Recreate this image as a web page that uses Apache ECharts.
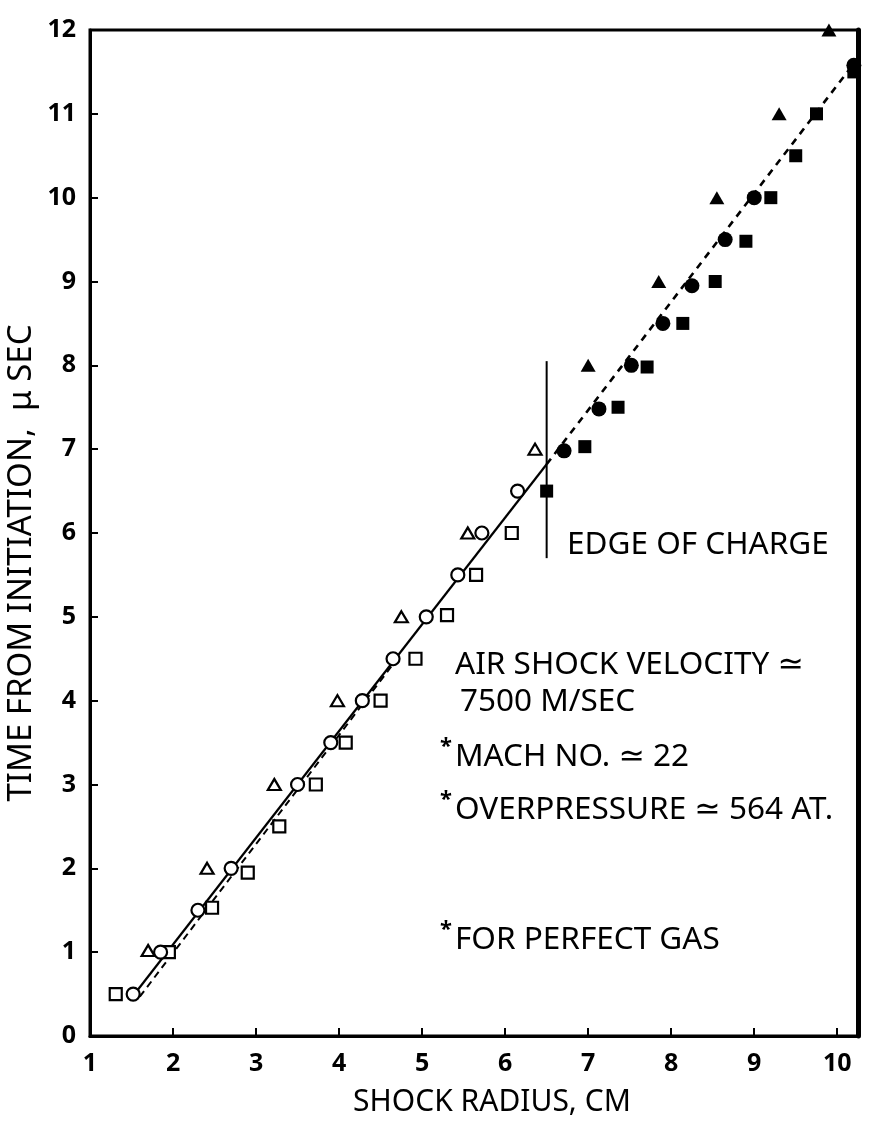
<!DOCTYPE html>
<html><head><meta charset="utf-8">
<script src="https://cdn.jsdelivr.net/npm/echarts@6/dist/echarts.min.js"></script>
<style>html,body{margin:0;padding:0;background:#fff}#c{width:870px;height:1130px}</style>
</head><body><div id="c"></div>
<script>
// ---- data ----
const xTickValues = [1, 2, 3, 4, 5, 6, 7, 8, 9, 10];
const yTickValues = [0, 1, 2, 3, 4, 5, 6, 7, 8, 9, 10, 11, 12];
const xTitle = 'SHOCK RADIUS, CM';
const yTitle = 'TIME FROM INITIATION,  \u03bc SEC';

const openCircles = [[1.52,0.5],[1.85,1.0],[2.3,1.5],[2.7,2.0],[3.5,3.0],[3.9,3.5],[4.28,4.0],[4.65,4.5],[5.05,5.0],[5.43,5.5],[5.72,6.0],[6.15,6.5]];
const openSquares = [[1.31,0.5],[1.95,1.0],[2.47,1.53],[2.9,1.95],[3.28,2.5],[3.72,3.0],[4.08,3.5],[4.5,4.0],[4.92,4.5],[5.3,5.02],[5.65,5.5],[6.08,6.0]];
const openTriangles = [[1.7,1.02],[2.41,2.0],[3.22,3.0],[3.98,4.0],[4.75,5.0],[5.55,6.0],[6.36,7.0]];
const filledCircles = [[6.71,6.98],[7.13,7.48],[7.52,8.0],[7.9,8.5],[8.25,8.95],[8.65,9.5],[9.0,10.0],[10.2,11.58]];
const filledSquares = [[6.5,6.5],[6.96,7.03],[7.36,7.5],[7.71,7.98],[8.14,8.5],[8.53,9.0],[8.9,9.48],[9.2,10.0],[9.5,10.5],[9.75,11.0],[10.2,11.5]];
const filledTriangles = [[7.0,8.0],[7.85,9.0],[8.55,10.0],[9.3,11.0],[9.9,12.0]];

const solidFit = [[1.52,0.48],[6.5,6.82]];
const lowerDashedFit = [[1.6,0.47],[4.7,4.5]];
const upperDashedFit = [[6.5,6.82],[10.2,11.6]];
const edgeOfCharge = [[6.5,5.7],[6.5,8.05]];

const notes = [
  {star:false, text:'EDGE OF CHARGE'},
  {star:false, text:'AIR SHOCK VELOCITY \u2243'},
  {star:false, text:'7500 M/SEC'},
  {star:true,  text:'MACH NO. \u2243 22'},
  {star:true,  text:'OVERPRESSURE \u2243 564 AT.'},
  {star:true,  text:'FOR PERFECT GAS'}
];
// ---- layout / style ----
const notePos = [[567,545],[455,665],[460,702],[455,757],[455,810],[455,940]];
const FONT = '"Noto Sans", "DejaVu Sans", sans-serif';
const noteFont = '31.5px ' + FONT;

const chart = echarts.init(document.getElementById('c'), null, {renderer:'canvas'});

const graphics = [];
notes.forEach((n, i) => {
  const [x, y] = notePos[i];
  graphics.push({type:'text', x:x, y:y, z:100,
    style:{text:n.text, font:noteFont, fill:'#000', verticalAlign:'middle', align:'left'}});
  if (n.star) {
    graphics.push({type:'text', x:x - 15, y:y - 10, z:100,
      style:{text:'*', font:'bold 22px ' + FONT, fill:'#000', verticalAlign:'middle', align:'left'}});
  }
});
graphics.push({type:'text', x:22, y:563, rotation:Math.PI/2, z:100,
  style:{text:yTitle, font:'33px ' + FONT, fill:'#000', align:'center', verticalAlign:'middle'}});
graphics.push({type:'text', x:492, y:1102, z:100,
  style:{text:xTitle, font:'30px ' + FONT, fill:'#000', align:'center', verticalAlign:'middle'}});

function lineSeries(data, type, width, dash) {
  return {type:'line', data:data, showSymbol:false, symbol:'none', z:2, silent:true,
    lineStyle:{color:'#000', width:width, type: dash || type}, animation:false};
}
function scatterSeries(data, symbol, size, filled) {
  return {type:'scatter', data:data, symbol:symbol, symbolSize:size, z:5, animation:false,
    itemStyle:{color: filled ? '#000' : '#fff', borderColor:'#000', borderWidth: filled ? 0 : 2.2, opacity:1}};
}

chart.setOption({
  backgroundColor:'#fff',
  animation:false,
  grid:{left:90, right:12, top:30, bottom:94, show:true, borderColor:'#000', borderWidth:3, backgroundColor:'transparent'},
  xAxis:{type:'value', min:1, max:10.25, interval:1,
    axisLine:{show:true, onZero:false, lineStyle:{color:'#000', width:3}},
    axisTick:{show:true, inside:true, length:8, lineStyle:{color:'#000', width:2}},
    axisLabel:{show:true, color:'#000', fontSize:25, fontWeight:'bold', fontFamily:FONT, margin:15, showMaxLabel:false,
      formatter: v => xTickValues.includes(v) ? String(v) : ''},
    splitLine:{show:false}},
  yAxis:[{type:'value', min:0, max:12, interval:1,
    axisLine:{show:true, onZero:false, lineStyle:{color:'#000', width:3}},
    axisTick:{show:true, inside:true, length:8, lineStyle:{color:'#000', width:2}},
    axisLabel:{show:true, color:'#000', fontSize:25, fontWeight:'bold', fontFamily:FONT, margin:14,
      formatter: v => yTickValues.includes(v) ? String(v) : ''},
    splitLine:{show:false}},
    {type:'value', min:0, max:12, position:'right',
    axisLine:{show:true, lineStyle:{color:'#000', width:5}}, axisTick:{show:false}, axisLabel:{show:false}, splitLine:{show:false}}],
  graphic: graphics,
  series:[
    lineSeries(solidFit, 'solid', 2.2),
    lineSeries(lowerDashedFit, null, 2, [7,5]),
    lineSeries(upperDashedFit, null, 2.6, [7,6]),
    lineSeries(edgeOfCharge, 'solid', 2),
    scatterSeries(openSquares, 'rect', 12, false),
    scatterSeries(openTriangles, 'triangle', [13,11], false),
    scatterSeries(openCircles, 'circle', 13, false),
    scatterSeries(filledSquares, 'rect', 13, true),
    scatterSeries(filledTriangles, 'triangle', [15,13], true),
    scatterSeries(filledCircles, 'circle', 15, true)
  ]
});
</script>
</body></html>
